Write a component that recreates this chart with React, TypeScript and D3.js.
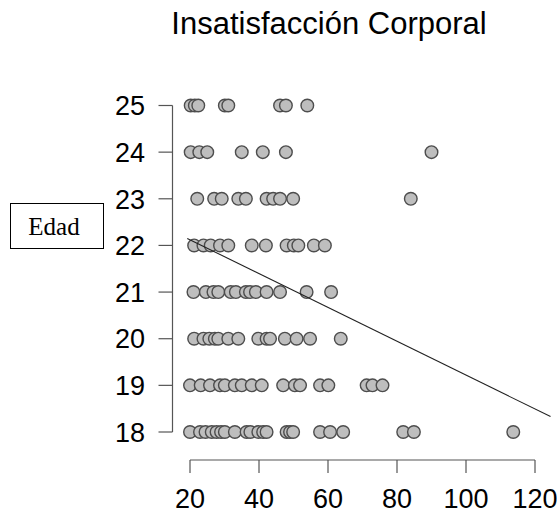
import React from "react";
import * as d3 from "d3";

const title = "Insatisfacción Corporal";
const yLabel = "Edad";
const xTicks = [20, 40, 60, 80, 100, 120];
const yTicks = [18, 19, 20, 21, 22, 23, 24, 25];

const insat25 = [20.2, 21.4, 22.4, 30.1, 31.1, 46.1, 47.8, 54];
const insat24 = [20.2, 22.7, 25, 35, 41.1, 47.8, 90];
const insat23 = [22.1, 27, 29.2, 34, 36.2, 42.2, 44.1, 46.1, 49.9, 84];
const insat22 = [21.2, 23.9, 26, 28.7, 31.1, 37.9, 42, 48, 50.1, 51.4, 55.9, 59.1];
const insat21 = [21, 24.6, 26.8, 28.2, 31.8, 33.3, 36.2, 37.4, 39.1, 42.2, 46.1, 53.8, 60.9];
const insat20 = [21.2, 23.9, 25.6, 27.2, 28.2, 31.1, 34, 39.8, 42.2, 43.2, 47.5, 50.9, 54.8, 63.7];
const insat19 = [20, 23.1, 25.8, 28.7, 30.1, 33, 35, 37.9, 40.8, 47, 50.4, 51.9, 57.7, 60.1, 71.2, 72.9, 75.8];
const insat18 = [20, 22.9, 24.5, 26.3, 27.7, 29, 30.1, 33, 36.4, 37.5, 39.8, 41.2, 42.2, 48, 49, 49.9, 57.7, 60.6, 64.4, 81.8, 84.9, 113.7];

const rows: [number, number[]][] = [
  [25, insat25], [24, insat24], [23, insat23], [22, insat22],
  [21, insat21], [20, insat20], [19, insat19], [18, insat18],
];

const fitIntercept = 22.847;
const fitSlope = -0.03628;
const fitRange = [19.2, 124.5];

export default function App() {
  const W = 557, H = 514;
  const x = d3.scaleLinear().domain([20, 120]).range([190, 535]);
  const y = d3.scaleLinear().domain([18, 25]).range([432, 105.5]);
  const axisY = 172.5;
  const axisX = 460;
  const line = d3.line<number>().x((v) => x(v)).y((v) => y(fitIntercept + fitSlope * v));

  return (
    <svg width={W} height={H} style={{ position: "absolute", left: 0, top: 0 }} fontFamily="Liberation Sans, Arial, sans-serif">
      <text x={329} y={34} textAnchor="middle" fontSize={31} fill="#000">{title}</text>
      {/* y axis */}
      <line x1={axisY} x2={axisY} y1={y(18)} y2={y(25)} stroke="#555" strokeWidth={1.2} />
      {yTicks.map((t) => (
        <g key={t}>
          <line x1={axisY - 14} x2={axisY} y1={y(t)} y2={y(t)} stroke="#555" strokeWidth={1.2} />
          <text x={145} y={y(t)} dy="0.36em" textAnchor="end" fontSize={27}>{t}</text>
        </g>
      ))}
      {/* x axis */}
      <line x1={x(20)} x2={x(120)} y1={axisX} y2={axisX} stroke="#555" strokeWidth={1.2} />
      {xTicks.map((t) => (
        <g key={t}>
          <line x1={x(t)} x2={x(t)} y1={axisX} y2={axisX + 13} stroke="#555" strokeWidth={1.2} />
          <text x={x(t)} y={508} textAnchor="middle" fontSize={27}>{t}</text>
        </g>
      ))}
      {/* points */}
      {rows.map(([age, vals]) =>
        vals.map((v, i) => (
          <circle key={`${age}-${i}`} cx={x(v)} cy={y(age)} r={6.3} fill="#bebebe" stroke="#4d4d4d" strokeWidth={1.4} />
        ))
      )}
      {/* fit line */}
      <path d={line(fitRange) || ""} stroke="#222" strokeWidth={1.1} fill="none" />
      {/* label box */}
      <rect x={10.5} y={203.5} width={93} height={45} fill="#fff" stroke="#000" strokeWidth={1} />
      <text x={54} y={235} textAnchor="middle" fontSize={25} fontFamily="Liberation Serif, Times New Roman, serif">{yLabel}</text>
    </svg>
  );
}
